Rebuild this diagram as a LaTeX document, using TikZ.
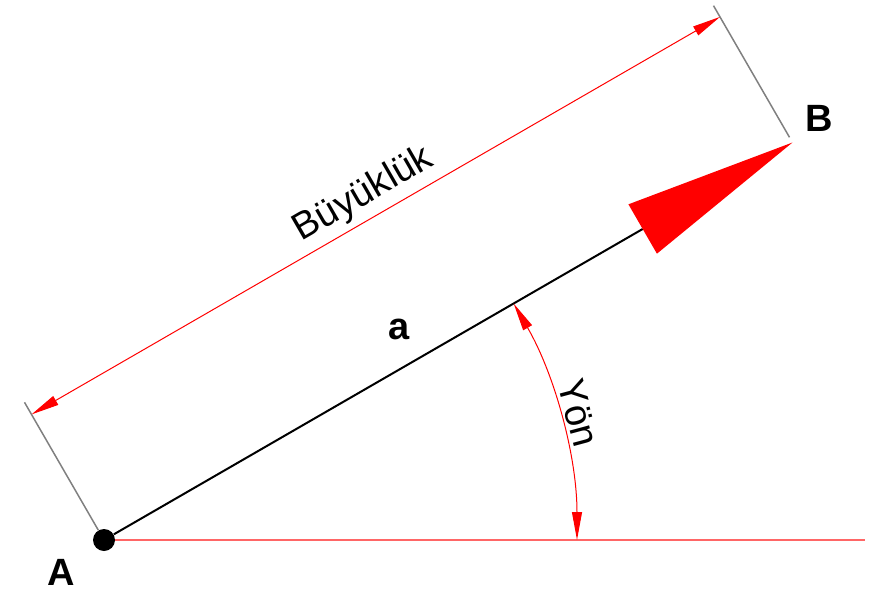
\documentclass[tikz,border=0pt]{standalone}
\usepackage{fontspec}
\setmainfont{Liberation Sans}
\usetikzlibrary{arrows.meta, calc}

\begin{document}
\begin{tikzpicture}[x=0.5pt, y=0.5pt, >={Triangle[length=14pt, width=5pt]},
    every node/.style={font=\fontsize{19}{23}\selectfont},
    dimline/.style={red, line width=0.5pt},
    extline/.style={gray, line width=0.75pt}]
    \useasboundingbox (0,0) rectangle (889,591);

    % Points
    \node (A) [circle, fill=black, inner sep=0pt, minimum size=11pt] at (104,51) {};
    \coordinate (B) at ($(A)+(30:795)$);
    \coordinate (H) at (865,51);

    % Labels
    \node (labelA) at (61,19) {\bfseries A};
    \node (labelB) at (819,473) {\bfseries B};
    \node (labela) at (399,262) {\bfseries a};

    % Vector
    \draw[line width=1pt, -{Triangle[red, line width=0pt, length=86.5pt, width=28.5pt]}] (A) -- (B);

    % Horizontal reference
    \draw[red!60, line width=0.8pt] (A) -- (H);

    % Extension lines
    \coordinate (E1) at ($(A)+(120:159)$);
    \coordinate (E2) at ($(B)+(120:6)$);
    \coordinate (E3) at ($(B)+(120:158)$);
    \draw[extline] (A) -- (E1);
    \draw[extline] (E2) -- (E3);

    % Magnitude
    \coordinate (D1) at ($(A)+(120:145)$);
    \coordinate (D2) at ($(B)+(120:145)$);
    \draw[dimline, <->] (D1) -- node[sloped, above, black, inner sep=3pt] (size) {Büyüklük} (D2);

    % Direction
    \draw[dimline, <->] ($(A)+(0:473)$) arc[start angle=0, end angle=30, radius=473];
    \node (dir) [rotate=-75] at ($(A)+(15:491)$) {Yön};
\end{tikzpicture}
\end{document}
